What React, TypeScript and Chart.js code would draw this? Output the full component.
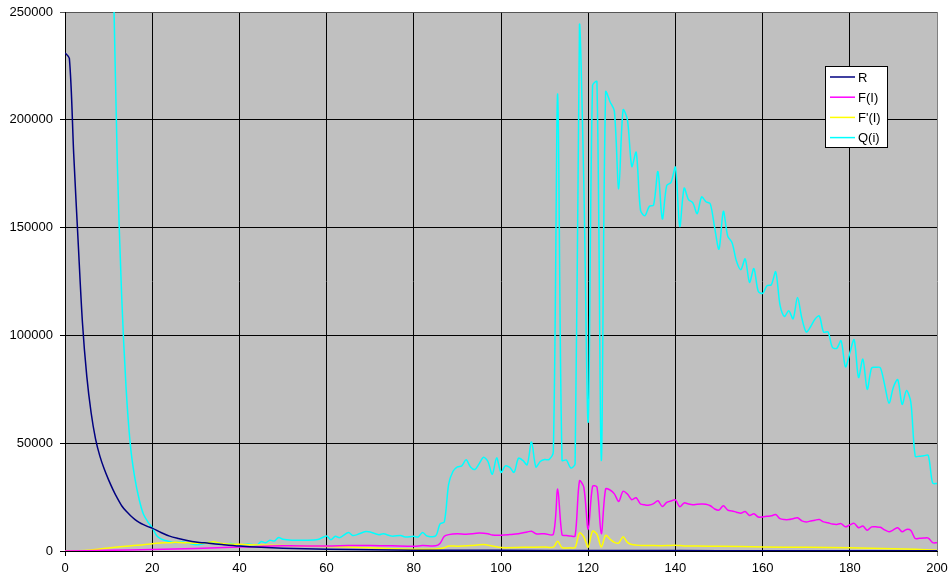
import React, { useEffect, useRef } from "react";
import { Chart, registerables } from "chart.js";

Chart.register(...registerables);

// X axis ticks / range
const xMin = 0;
const xMax = 200;
const xStep = 20;
const yMin = 0;
const yMax = 250000;
const yStep = 50000;

// R
const rX = [0, 1, 2, 3, 4, 5, 6, 7, 8, 9, 10, 11, 12, 13, 14, 15, 16, 17, 18, 19, 20, 22, 24, 26, 28, 30, 33, 36, 40, 45, 50, 55, 60, 70, 80, 90, 100, 120, 140, 160, 180, 200];
const rY = [231000, 228500, 184000, 144000, 106000, 81000, 64000, 52000, 44000, 38000, 33000, 28500, 24500, 21000, 18500, 16500, 14700, 13300, 12200, 11300, 10600, 8600, 6900, 5800, 4900, 4200, 3600, 3000, 2300, 1700, 1300, 1000, 800, 600, 400, 350, 300, 250, 200, 150, 120, 100];

// F(I)
const fX = [0, 10, 20, 30, 40, 50, 60, 65, 70, 75, 80, 82, 85, 86, 87, 88, 90, 92, 95, 97, 98, 100, 102, 104, 106, 107, 108, 110, 112, 113, 114, 115, 116, 117, 118, 119, 120, 121, 122, 123, 124, 125, 126, 127, 128, 129, 130, 131, 132, 133, 134, 135, 136, 137, 138, 139, 140, 141, 142, 143, 144, 145, 146, 147, 148, 149, 150, 151, 152, 153, 154, 155, 156, 157, 158, 159, 160, 161, 162, 163, 164, 165, 166, 167, 168, 169, 170, 171, 172, 173, 174, 175, 176, 177, 178, 179, 180, 181, 182, 183, 184, 185, 186, 187, 188, 189, 190, 191, 192, 193, 194, 195, 196, 197, 198, 199, 200];
const fY = [0, 300, 700, 1200, 1800, 2400, 2300, 2500, 2600, 2400, 2200, 2500, 2400, 3500, 6800, 7600, 8000, 7800, 8300, 8000, 7400, 7300, 7600, 8000, 8800, 9200, 8000, 8000, 7800, 28800, 7500, 7200, 6900, 7000, 32500, 29500, 10000, 30000, 29700, 8000, 28800, 28300, 26500, 23000, 27700, 26400, 23800, 24700, 21800, 21400, 21300, 22000, 23300, 20600, 22500, 23200, 23700, 20500, 22300, 21800, 21500, 21700, 21800, 21700, 21000, 19500, 19000, 21000, 19000, 18600, 18000, 17500, 18300, 16500, 17300, 15800, 15800, 16100, 16300, 16900, 15000, 14600, 14600, 15000, 15400, 14000, 13500, 13900, 14300, 14600, 13500, 13100, 12500, 12300, 12700, 11200, 12100, 12800, 10800, 11600, 9600, 11200, 11200, 11000, 9800, 8900, 9800, 10800, 8900, 10000, 9500, 5800, 5900, 6000, 6000, 3900, 3800];

// F'(I)
const dX = [0, 3, 6, 10, 14, 18, 20, 22, 25, 28, 30, 32, 34, 36, 40, 45, 50, 55, 60, 65, 70, 75, 80, 85, 87, 88, 90, 93, 96, 98, 100, 105, 110, 112, 113, 114, 116, 117, 118, 119, 120, 121, 122, 123, 124, 125, 126, 127, 128, 129, 130, 132, 135, 138, 140, 142, 145, 150, 160, 170, 180, 190, 200];
const dY = [0, 100, 500, 1400, 2200, 2900, 3400, 3700, 4000, 3800, 3600, 3700, 4300, 3500, 3100, 2800, 2500, 2300, 2100, 1800, 1500, 1100, 800, 900, 1500, 2300, 2200, 2500, 3000, 2300, 1600, 1700, 1800, 1800, 4500, 1600, 1500, 1600, 8400, 6500, 1800, 9200, 7800, 1800, 7300, 5500, 4000, 3700, 6600, 4000, 3000, 2600, 2500, 2500, 2700, 2300, 2300, 2200, 1900, 1700, 1500, 1100, 400];

// Q(i)
const qX = [10, 11, 12, 13, 14, 15, 16, 17, 18, 19, 20, 21, 22, 23, 24, 25, 27, 30, 32, 34, 36, 38, 40, 42, 44, 45, 46, 47, 48, 49, 50, 52, 55, 58, 60, 61, 62, 63, 65, 66, 67, 69, 70, 72, 73, 75, 77, 78, 80, 81, 82, 83, 85, 86, 87, 88, 89, 90, 91, 92, 93, 94, 95, 96, 97, 98, 99, 100, 101, 102, 103, 104, 105, 106, 107, 108, 109, 110, 111, 112, 113, 114, 115, 116, 117, 118, 119, 120, 121, 122, 123, 124, 125, 126, 127, 128, 129, 130, 131, 132, 133, 134, 135, 136, 137, 138, 139, 140, 141, 142, 143, 144, 145, 146, 147, 148, 149, 150, 151, 152, 153, 154, 155, 156, 157, 158, 159, 160, 161, 162, 163, 164, 165, 166, 167, 168, 169, 170, 171, 172, 173, 174, 175, 176, 177, 178, 179, 180, 181, 182, 183, 184, 185, 186, 187, 188, 189, 190, 191, 192, 193, 194, 195, 196, 197, 198, 199, 200];
const qY = [360000, 275000, 180000, 118000, 76000, 49000, 34000, 24000, 17000, 13500, 10800, 7200, 5600, 4900, 4400, 3900, 4200, 2900, 3500, 4300, 3100, 3500, 2800, 3300, 2700, 4400, 3800, 5000, 4600, 6300, 5400, 5000, 5000, 5300, 7000, 5200, 6800, 6200, 8600, 7200, 7600, 9000, 8800, 7500, 8000, 6900, 7200, 6500, 6800, 6500, 8600, 7000, 7000, 12500, 13500, 31000, 37000, 39000, 39500, 42300, 39000, 37800, 40500, 43500, 41500, 35600, 43200, 36500, 39500, 38800, 36500, 43000, 42000, 40000, 50600, 39000, 41500, 42400, 42400, 46000, 212000, 42000, 42200, 38500, 40500, 244000, 170000, 60000, 216000, 217700, 42000, 213000, 208400, 204000, 168000, 204600, 200000, 178300, 185000, 158000, 155500, 159800, 160500, 176000, 154000, 169500, 171000, 178000, 150500, 168300, 163000, 161500, 156500, 164200, 162000, 161000, 150000, 140000, 157500, 146000, 143000, 134500, 130500, 135500, 124600, 131000, 120500, 119500, 123000, 123500, 129500, 114000, 108800, 111400, 107700, 117600, 108000, 101600, 104000, 107500, 109000, 101500, 101600, 94500, 94000, 97500, 85400, 91800, 98000, 80500, 89000, 75000, 84900, 85200, 85000, 77000, 68500, 76000, 79500, 68000, 74400, 69000, 44000, 44000, 44200, 44300, 31500, 31300];

const seriesLabels = ["R", "F(I)", "F'(I)", "Q(i)"];
const seriesColors = ["#000080", "#FF00FF", "#FFFF00", "#00FFFF"];

const toPoints = (xs: number[], ys: number[]) => xs.map((x, i) => ({ x, y: ys[i] }));

const FONT = "'Liberation Sans', Arial, sans-serif";

const bgPlugin = {
  id: "plotBg",
  beforeDraw(chart: any) {
    const { ctx, chartArea } = chart;
    ctx.save();
    ctx.fillStyle = "#C0C0C0";
    ctx.fillRect(chartArea.left, chartArea.top, chartArea.right - chartArea.left, chartArea.bottom - chartArea.top);
    ctx.restore();
  },
};

const legendPlugin = {
  id: "boxLegend",
  afterDraw(chart: any) {
    const { ctx } = chart;
    const left = 825.5;
    const top = 66.5;
    const w = 62;
    const h = 81;
    ctx.save();
    ctx.fillStyle = "#FFFFFF";
    ctx.fillRect(left, top, w, h);
    ctx.strokeStyle = "#000000";
    ctx.lineWidth = 1;
    ctx.strokeRect(left, top, w, h);
    ctx.font = `13px ${FONT}`;
    ctx.textBaseline = "middle";
    ctx.textAlign = "left";
    chart.data.datasets.forEach((ds: any, i: number) => {
      const y = 77 + i * 20.2;
      ctx.strokeStyle = ds.borderColor;
      ctx.lineWidth = 1.5;
      ctx.beginPath();
      ctx.moveTo(830, y);
      ctx.lineTo(855, y);
      ctx.stroke();
      ctx.fillStyle = "#000000";
      ctx.fillText(ds.label, 858, y + 1);
    });
    ctx.restore();
  },
};

export default function App() {
  const canvasRef = useRef<HTMLCanvasElement | null>(null);

  useEffect(() => {
    if (!canvasRef.current) return;
    const datasets = [
      toPoints(rX, rY),
      toPoints(fX, fY),
      toPoints(dX, dY),
      toPoints(qX, qY),
    ].map((data, i) => ({
      label: seriesLabels[i],
      data,
      borderColor: seriesColors[i],
      backgroundColor: seriesColors[i],
      borderWidth: 1.5,
      pointRadius: 0,
      tension: 0.3,
      fill: false,
    }));

    const chart = new Chart(canvasRef.current, {
      type: "line",
      data: { datasets },
      plugins: [bgPlugin, legendPlugin],
      options: {
        animation: false,
        responsive: true,
        maintainAspectRatio: false,
        layout: { padding: { left: 0, top: 12, right: 15, bottom: 0 } },
        plugins: {
          legend: { display: false },
          tooltip: { enabled: false },
        },
        scales: {
          x: {
            type: "linear",
            min: xMin,
            max: xMax,
            ticks: {
              stepSize: xStep,
              color: "#000",
              font: { family: FONT, size: 13 },
              padding: 5,
              maxRotation: 0,
              callback: (v: any) => String(v),
            },
            grid: {
              color: (c: any) => (c.tick && c.tick.value === xMax ? "#808080" : "#000000"),
              lineWidth: 1,
              tickLength: 5,
            },
            border: { color: "#000000", width: 1 },
            afterFit: (s: any) => {
              s.height = 34;
              s.paddingLeft = 0;
              s.paddingRight = 0;
            },
          },
          y: {
            type: "linear",
            min: yMin,
            max: yMax,
            ticks: {
              stepSize: yStep,
              color: "#000",
              font: { family: FONT, size: 13 },
              padding: 7,
              callback: (v: any) => String(v),
            },
            grid: {
              color: (c: any) => (c.tick && c.tick.value === yMax ? "#555555" : "#000000"),
              lineWidth: 1,
              tickLength: 5,
            },
            border: { color: "#000000", width: 1 },
            afterFit: (s: any) => {
              s.width = 65;
              s.paddingTop = 0;
              s.paddingBottom = 0;
            },
          },
        },
      },
    });
    return () => chart.destroy();
  }, []);

  return (
    <div style={{ position: "absolute", left: 0, top: 0, width: 952, height: 585, background: "#FFFFFF" }}>
      <canvas ref={canvasRef} />
    </div>
  );
}
